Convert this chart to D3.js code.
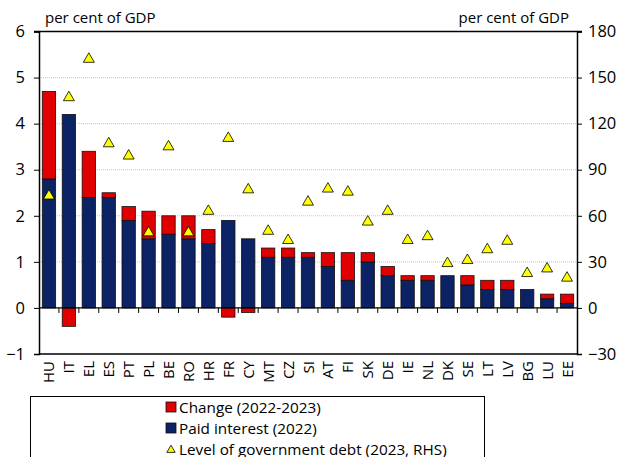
<!DOCTYPE html>
<html>
<head>
<meta charset="utf-8">
<script src="https://cdn.jsdelivr.net/npm/d3@7"></script>
<style>
  body { margin: 0; background: #fff; }
  svg { font-family: "Open Sans", "Noto Sans", sans-serif; }
</style>
</head>
<body>
<div id="chart"></div>
<script>
const width = 622;
const height = 457;

const countries = ["HU", "IT", "EL", "ES", "PT", "PL", "BE", "RO", "HR", "FR", "CY", "MT", "CZ", "SI",
    "AT", "FI", "SK", "DE", "IE", "NL", "DK", "SE", "LT", "LV", "BG", "LU", "EE"];
const paidInterest = [2.8, 4.2, 2.4, 2.4, 1.9, 1.5, 1.6, 1.5, 1.4, 1.9, 1.5, 1.1, 1.1, 1.1,
    0.9, 0.6, 1.0, 0.7, 0.6, 0.6, 0.7, 0.5, 0.4, 0.4, 0.4, 0.2, 0.1];
const change = [1.9, -0.4, 1.0, 0.1, 0.3, 0.6, 0.4, 0.5, 0.3, -0.2, -0.1, 0.2, 0.2, 0.1,
    0.3, 0.6, 0.2, 0.2, 0.1, 0.1, 0.0, 0.2, 0.2, 0.2, 0.0, 0.1, 0.2];
const debt = [73, 137, 162, 107, 99, 49, 105, 49, 63, 110.5, 77, 50, 44, 69,
    77.5, 75.5, 56, 63, 44, 46.5, 29, 31, 38, 43.5, 22.5, 25.5, 19.5];
const leftTicks = [-1, 0, 1, 2, 3, 4, 5, 6];
const rightTicks = [-30, 0, 30, 60, 90, 120, 150, 180];

const red = "#E00000";
const navy = "#0B2265";
const plotLeft = 39, plotRight = 577, plotTop = 31.5, plotBottom = 354;

const svg = d3.select("#chart").append("svg")
    .attr("width", width)
    .attr("height", height);

const x = d3.scaleBand().domain(countries).range([plotLeft, plotRight]).paddingInner(0.33).paddingOuter(0.165);
const xb = d3.scaleBand().domain(countries).range([plotLeft, plotRight]);
const y = d3.scaleLinear().domain([-1, 6]).range([plotBottom, plotTop]);
const y2 = d3.scaleLinear().domain([-30, 180]).range([plotBottom, plotTop]);

// dotted gridlines
svg.append("g").selectAll("line")
    .data(leftTicks.filter(d => d > 0 && d < 6))
    .join("line")
    .attr("x1", plotLeft).attr("x2", plotRight)
    .attr("y1", d => y(d)).attr("y2", d => y(d))
    .attr("stroke", "#c8c8c8").attr("stroke-dasharray", "1,1");

const rows = countries.map((c, i) => ({ c, paid: paidInterest[i], ch: change[i], debt: debt[i] }));

// paid interest bars
svg.append("g").selectAll("rect")
    .data(rows)
    .join("rect")
    .attr("x", d => x(d.c))
    .attr("width", x.bandwidth())
    .attr("y", d => y(d.paid))
    .attr("height", d => y(0) - y(d.paid))
    .attr("fill", navy)
    .attr("stroke", "#111").attr("stroke-width", 0.8);

// change bars
svg.append("g").selectAll("rect")
    .data(rows.filter(d => d.ch !== 0))
    .join("rect")
    .attr("x", d => x(d.c))
    .attr("width", x.bandwidth())
    .attr("y", d => d.ch > 0 ? y(d.paid + d.ch) : y(0))
    .attr("height", d => d.ch > 0 ? y(d.paid) - y(d.paid + d.ch) : y(d.ch) - y(0))
    .attr("fill", red)
    .attr("stroke", "#111").attr("stroke-width", 0.8);

// axes frame
svg.append("line").attr("x1", plotLeft - 5).attr("x2", plotRight + 5).attr("y1", plotTop).attr("y2", plotTop)
    .attr("stroke", "#000").attr("stroke-width", 1.3);
svg.append("line").attr("x1", plotLeft).attr("x2", plotRight).attr("y1", plotBottom).attr("y2", plotBottom)
    .attr("stroke", "#000").attr("stroke-width", 1.3);
svg.append("line").attr("x1", plotLeft).attr("x2", plotRight).attr("y1", y(0)).attr("y2", y(0))
    .attr("stroke", "#000").attr("stroke-width", 1.3);

const yAxisL = svg.append("g")
    .attr("transform", `translate(${plotLeft},0)`)
    .call(d3.axisLeft(y).tickValues(leftTicks).tickSize(5).tickPadding(9).tickFormat(d3.format("d")));
const yAxisR = svg.append("g")
    .attr("transform", `translate(${plotRight},0)`)
    .call(d3.axisRight(y2).tickValues(rightTicks).tickSize(5).tickPadding(6).tickFormat(d3.format("d")));
[yAxisL, yAxisR].forEach(g => {
    g.select(".domain").attr("stroke", "#000").attr("stroke-width", 1.5);
    g.selectAll(".tick line").attr("stroke", "#000");
    g.selectAll(".tick text").attr("font-size", 16.5).attr("fill", "#000")
        .attr("font-family", "Open Sans, sans-serif");
});

// category ticks on zero line
svg.append("g").selectAll("line")
    .data(countries.slice(1))
    .join("line")
    .attr("x1", d => xb(d)).attr("x2", d => xb(d))
    .attr("y1", y(0)).attr("y2", y(0) + 5)
    .attr("stroke", "#000");

// category labels
svg.append("g").selectAll("text")
    .data(countries)
    .join("text")
    .attr("transform", d => `translate(${xb(d) + xb.bandwidth() / 2 + 5.5},${plotBottom + 7}) rotate(-90)`)
    .attr("text-anchor", "end")
    .attr("font-size", 15)
    .text(d => d);

// debt triangles
const tri = d3.symbol().type(d3.symbolTriangle).size(52);
svg.append("g").selectAll("path")
    .data(rows)
    .join("path")
    .attr("d", tri)
    .attr("transform", d => `translate(${xb(d.c) + xb.bandwidth() / 2},${y2(d.debt)})`)
    .attr("fill", "#FFFF00")
    .attr("stroke", "#000").attr("stroke-width", 0.8);

// unit labels
svg.append("text").attr("x", 45).attr("y", 23).attr("font-size", 15).text("per cent of GDP");
svg.append("text").attr("x", 569).attr("y", 23).attr("font-size", 15).attr("text-anchor", "end").text("per cent of GDP");

// legend
const legend = svg.append("g");
legend.append("rect").attr("x", 30.5).attr("y", 396.5).attr("width", 454).attr("height", 70)
    .attr("fill", "none").attr("stroke", "#000");
const legendItems = [
    { label: "Change (2022-2023)", color: red, type: "rect" },
    { label: "Paid interest (2022)", color: navy, type: "rect" },
    { label: "Level of government debt (2023, RHS)", color: "#FFFF00", type: "tri" }
];
legendItems.forEach((d, i) => {
    const cy = 407 + i * 21;
    if (d.type === "rect") {
        legend.append("rect").attr("x", 166).attr("y", cy - 5).attr("width", 10).attr("height", 10)
            .attr("fill", d.color).attr("stroke", "#111").attr("stroke-width", 0.8);
    } else {
        legend.append("path").attr("d", d3.symbol().type(d3.symbolTriangle).size(30))
            .attr("transform", `translate(171,${cy + 1})`)
            .attr("fill", d.color).attr("stroke", "#000").attr("stroke-width", 0.8);
    }
    legend.append("text").attr("x", 179).attr("y", cy + 5.5).attr("font-size", 15.3).text(d.label);
});
</script>
</body>
</html>
